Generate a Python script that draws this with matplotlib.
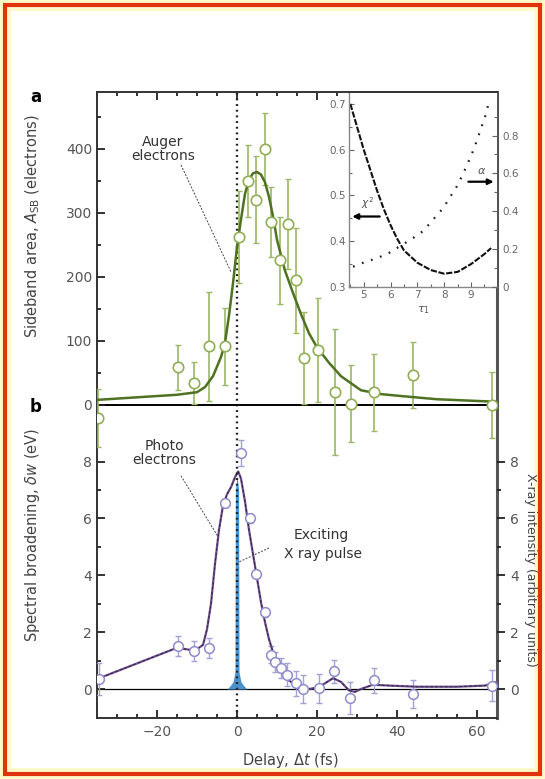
import matplotlib
matplotlib.use('Agg')
import matplotlib.pyplot as plt
from matplotlib.patches import Rectangle
from matplotlib.ticker import MultipleLocator, FixedLocator

# panel a: Auger electron sideband area (electrons)
auger_t = [-34.75, -14.75, -10.75, -7, -3, 0.6, 2.75, 4.75, 7, 8.5, 10.75,
           12.75, 14.75, 16.75, 20.25, 24.5, 28.5, 34.25, 44, 63.75]
auger_a = [-20, 59, 34, 92, 92, 262, 350, 321, 400, 286, 226,
           283, 195, 73, 86, 20, 2, 20, 47, 0]
auger_err = [45, 35, 33, 85, 60, 72, 56, 68, 56, 55, 68,
             70, 82, 72, 81, 98, 60, 60, 52, 52]
auger_fit_t = [-35, -25, -15, -10, -8, -6, -4, -3, -2, -1, 0, 1, 2, 3, 4, 5, 6, 7,
               8, 9, 10, 12, 14, 16, 18, 20, 23, 26, 31, 36, 41, 50, 65]
auger_fit = [8, 12, 16, 20, 28, 45, 75, 97, 140, 190, 247, 290, 330, 352, 362, 364,
             360, 348, 325, 295, 258, 210, 175, 142, 112, 90, 66, 45, 23, 17, 14, 9, 5]

# panel b: photoelectron spectral broadening (eV)
photo_t = [-34.5, -14.75, -10.75, -7, -3, 1, 3.2, 4.8, 7, 8.5, 9.6, 11, 12.5,
           14.7, 16.5, 20.5, 24.3, 28.2, 34.3, 44, 63.7]
photo_w = [0.35, 1.5, 1.35, 1.45, 6.55, 8.3, 6.0, 4.05, 2.7, 1.2, 0.95, 0.75, 0.5,
           0.2, 0.0, 0.02, 0.62, -0.32, 0.3, -0.17, 0.12]
photo_err = [0.55, 0.35, 0.35, 0.35, 0.15, 0.45, 0.15, 0.15, 0.15, 0.3, 0.35, 0.35,
             0.4, 0.45, 0.5, 0.5, 0.4, 0.55, 0.45, 0.5, 0.55]
photo_fit_t = [-35, -25, -15, -10.5, -8.5, -7.5, -6.5, -5.5, -4.5, -3.5, -2.5, -1.5,
               -0.5, 0.3, 1, 2, 3, 4, 5, 6, 7, 8, 9, 10, 11, 12, 13, 14.5, 16, 18,
               20, 22, 24, 26, 28, 29.5, 31, 34, 38, 45, 55, 62, 65]
photo_fit = [0.35, 0.9, 1.45, 1.35, 1.55, 2.1, 3.0, 4.4, 5.6, 6.45, 6.85, 7.1, 7.45,
             7.65, 7.4, 6.6, 5.6, 4.75, 3.9, 3.05, 2.35, 1.75, 1.3, 1.0, 0.75, 0.5,
             0.3, 0.15, 0.05, 0.0, 0.05, 0.2, 0.38, 0.25, -0.05, -0.1, 0.0, 0.15,
             0.12, 0.08, 0.08, 0.12, 0.25]

# exciting X-ray pulse (arbitrary units)
pulse_t = [-2.5, -1.8, -1.0, -0.5, -0.4, 0.0, 0.4, 0.5, 1.0, 1.8, 2.5]
pulse_i = [0, 0.1, 0.25, 0.6, 7.0, 7.5, 7.0, 0.6, 0.25, 0.1, 0]

# inset: chi^2 and alpha versus tau_1
chi_tau = [4.5, 4.75, 5.0, 5.25, 5.5, 5.75, 6.0, 6.25, 6.5, 7.0, 7.5, 8.0, 8.5, 9.0, 9.5, 9.75]
chi2 = [0.70, 0.65, 0.60, 0.555, 0.51, 0.47, 0.435, 0.405, 0.38, 0.353, 0.337,
        0.329, 0.333, 0.35, 0.372, 0.385]
alpha_tau = [4.6, 5.01, 5.47, 5.91, 6.78, 7.22, 7.6, 7.97, 8.26, 8.51, 8.72, 8.91,
             9.1, 9.25, 9.41, 9.56, 9.66]
alpha = [0.107, 0.13, 0.151, 0.177, 0.253, 0.296, 0.358, 0.418, 0.484, 0.54, 0.603,
         0.663, 0.726, 0.786, 0.853, 0.914, 0.975]

W, H = 545, 779
fig = plt.figure(figsize=(W / 100, H / 100), dpi=100)
fig.patch.set_facecolor('#fdf9c9')
fig.patches.append(Rectangle((11 / W, 11 / H), (W - 22) / W, (H - 22) / H,
                             transform=fig.transFigure, facecolor='white',
                             edgecolor='none', zorder=-2))
fig.patches.append(Rectangle((5 / W, 5 / H), (W - 10) / W, (H - 10) / H,
                             transform=fig.transFigure, facecolor='none',
                             edgecolor='#e0320c', lw=3.0, zorder=-1))

rect = [97 / W, 1 - 718 / H, 400 / W, (718 - 92) / H]
tick_col = '#555555'
green_pt = '#8fae55'
green_fit = '#4e7222'
purple_pt = '#8e8ccc'
purple_fit = '#6e4e90'

# panel b axes (bottom part)
ax_b = fig.add_axes(rect)
ax_b.set_xlim(-35, 65)
ax_b.set_ylim(-1.02, 21.0)
ax_b.fill_between(pulse_t, pulse_i, color='#4b92cc', lw=0, zorder=2)
ax_b.axhline(0, color='k', lw=0.9, zorder=1)
ax_b.axvline(0, color='#222222', lw=1.7, ls=(0, (0.8, 1.6)), zorder=5)
ax_b.errorbar(photo_t, photo_w, yerr=photo_err, fmt='none', ecolor='#a3a2d6',
              elinewidth=1.0, capsize=2.5, capthick=1.0, zorder=3)
ax_b.plot(photo_fit_t, photo_fit, color=purple_fit, lw=1.6, zorder=4)
ax_b.plot(photo_fit_t, photo_fit, color='#2e2440', lw=0.7, ls=(0, (3, 2)), zorder=4)
ax_b.plot(photo_t, photo_w, 'o', ms=7, mfc='white', mec=purple_pt, mew=1.1, zorder=6)

ax_b.xaxis.set_major_locator(MultipleLocator(20))
ax_b.xaxis.set_minor_locator(MultipleLocator(5))
ax_b.yaxis.set_major_locator(FixedLocator([0, 2, 4, 6, 8]))
ax_b.yaxis.set_minor_locator(FixedLocator([1, 3, 5, 7]))
ax_b.tick_params(which='both', direction='in', top=True, right=False,
                 colors='#222222', labelcolor=tick_col, labelsize=10, width=1.3)
ax_b.tick_params(which='major', length=6)
ax_b.tick_params(which='minor', length=3)
ax_b.tick_params(axis='x', pad=5)
for s in ax_b.spines.values():
    s.set_linewidth(1.4)
    s.set_color('#333333')
ax_b.spines['right'].set_linewidth(2.2)
ax_b.spines['right'].set_color('#555555')

# right axis: X-ray intensity
ax_r = ax_b.twinx()
ax_r.set_ylim(ax_b.get_ylim())
ax_r.yaxis.set_major_locator(FixedLocator([0, 2, 4, 6, 8]))
ax_r.yaxis.set_minor_locator(FixedLocator([1, 3, 5, 7]))
ax_r.tick_params(which='both', direction='out', colors='#222222',
                 labelcolor=tick_col, labelsize=10, width=1.3)
ax_r.tick_params(which='major', length=6)
ax_r.tick_params(which='minor', length=3)
for s in ax_r.spines.values():
    s.set_visible(False)

# panel a axes (overlaid, same frame)
ax_a = fig.add_axes(rect, sharex=ax_b)
ax_a.patch.set_visible(False)
for s in ax_a.spines.values():
    s.set_visible(False)
ax_a.set_ylim(-489, 489)
ax_a.axhline(0, color='k', lw=1.4, zorder=1)
ax_a.errorbar(auger_t, auger_a, yerr=auger_err, fmt='none', ecolor='#9ab865',
              elinewidth=1.2, capsize=2.5, capthick=1.0, zorder=3)
ax_a.plot(auger_fit_t, auger_fit, color=green_fit, lw=1.8, zorder=4)
ax_a.plot(auger_t, auger_a, 'o', ms=7.5, mfc='white', mec=green_pt, mew=1.2, zorder=6)
ax_a.yaxis.set_major_locator(FixedLocator([0, 100, 200, 300, 400]))
ax_a.yaxis.set_minor_locator(FixedLocator([50, 150, 250, 350, 450]))
ax_a.tick_params(axis='y', which='both', direction='in', colors='#222222',
                 labelcolor=tick_col, labelsize=10, width=1.3)
ax_a.tick_params(axis='y', which='major', length=6)
ax_a.tick_params(axis='y', which='minor', length=3)
ax_a.tick_params(axis='x', which='both', bottom=False, top=False,
                 labelbottom=False)

# annotations
ax_a.text(-18.5, 400, 'Auger\nelectrons', ha='center', va='center',
          fontsize=10, color='#333333', linespacing=1.0)
ax_a.plot([-14, -1.5], [375, 208], color='#444444', lw=0.7, ls=(0, (2, 1.5)))
ax_b.text(-18.2, 8.3, 'Photo\nelectrons', ha='center', va='center',
          fontsize=10, color='#333333', linespacing=1.0)
ax_b.plot([-14, -4.5], [7.5, 5.3], color='#444444', lw=0.7, ls=(0, (2, 1.5)))
ax_b.text(21, 5.4, 'Exciting', ha='center', va='center', fontsize=10,
          color='#333333')
ax_b.text(21.5, 4.75, 'X ray pulse', ha='center', va='center', fontsize=10,
          color='#333333')
ax_b.plot([8, 0.5], [4.96, 4.47], color='#444444', lw=0.7, ls=(0, (2, 1.5)))

# axis labels
fig.text(33 / W, 1 - 226 / H, r'Sideband area, $A_{\rm SB}$ (electrons)',
         rotation=90, ha='center', va='center', fontsize=10.5, color='#444444')
fig.text(33 / W, 1 - 535 / H, r'Spectral broadening, $\delta w$ (eV)',
         rotation=90, ha='center', va='center', fontsize=10.5, color='#444444')
fig.text(531 / W, 1 - 570 / H, 'X-ray intensity (arbitrary units)',
         rotation=270, ha='center', va='center', fontsize=9, color='#444444')
fig.text(290 / W, 1 - 760 / H, r'Delay, $\Delta t$ (fs)', ha='center',
         va='center', fontsize=10.5, color='#444444')
fig.text(36 / W, 1 - 97 / H, 'a', ha='center', va='center', fontsize=12,
         fontweight='bold')
fig.text(36 / W, 1 - 407 / H, 'b', ha='center', va='center', fontsize=12,
         fontweight='bold')

# inset
ax_in = fig.add_axes([349 / W, 1 - 287 / H, 148 / W, 195 / H])
ax_in.set_xlim(4.45, 9.97)
ax_in.set_ylim(0.3, 0.726)
ax_in.plot(chi_tau, chi2, color='#111111', lw=1.5, ls=(0, (3, 0.8)))
ax_in.xaxis.set_major_locator(MultipleLocator(1))
ax_in.xaxis.set_minor_locator(MultipleLocator(0.5))
ax_in.yaxis.set_major_locator(MultipleLocator(0.1))
ax_in.yaxis.set_minor_locator(MultipleLocator(0.05))
ax_in.tick_params(which='both', direction='in', top=False, right=False,
                  colors='#666666', labelcolor='#666666', labelsize=7.5, width=0.8)
ax_in.tick_params(which='major', length=3.5, pad=2)
ax_in.tick_params(which='minor', length=2)
for s in ax_in.spines.values():
    s.set_color('#888888')
    s.set_linewidth(1.0)
ax_in.spines['right'].set_visible(False)
ax_in.spines['top'].set_color('#333333')
ax_in.spines['top'].set_linewidth(1.4)
ax_in.set_xlabel(r'$\tau_1$', fontsize=8, color='#555555', labelpad=3)

ax_in2 = ax_in.twinx()
ax_in2.set_ylim(0, 1.03)
ax_in2.plot(alpha_tau, alpha, color='#222222', lw=1.6, ls=(0, (0.8, 3.5)))
ax_in2.yaxis.set_major_locator(FixedLocator([0, 0.2, 0.4, 0.6, 0.8]))
ax_in2.yaxis.set_minor_locator(FixedLocator([0.1, 0.3, 0.5, 0.7, 0.9]))
ax_in2.tick_params(which='both', direction='in', colors='#666666',
                   labelcolor='#666666', labelsize=7.5, width=0.8, pad=4)
ax_in2.tick_params(which='major', length=3.5)
ax_in2.tick_params(which='minor', length=2)
ax_in2.yaxis.set_major_formatter(plt.FuncFormatter(lambda v, p: '0' if v == 0 else f'{v:.1f}'))
for s in ax_in2.spines.values():
    s.set_visible(False)

ax_in.annotate('', xy=(4.47, 0.454), xytext=(5.7, 0.454),
               arrowprops=dict(arrowstyle='-|>', color='k', lw=1.6, mutation_scale=8))
ax_in.text(5.15, 0.484, r'$\chi^2$', fontsize=7.5, color='#555555', ha='center', va='center')
ax_in.annotate('', xy=(9.95, 0.53), xytext=(8.8, 0.53),
               arrowprops=dict(arrowstyle='-|>', color='k', lw=1.6, mutation_scale=8))
ax_in.text(9.4, 0.553, r'$\alpha$', fontsize=8, color='#555555', ha='center', va='center')

fig.savefig('out.png', dpi=100, facecolor=fig.get_facecolor())
